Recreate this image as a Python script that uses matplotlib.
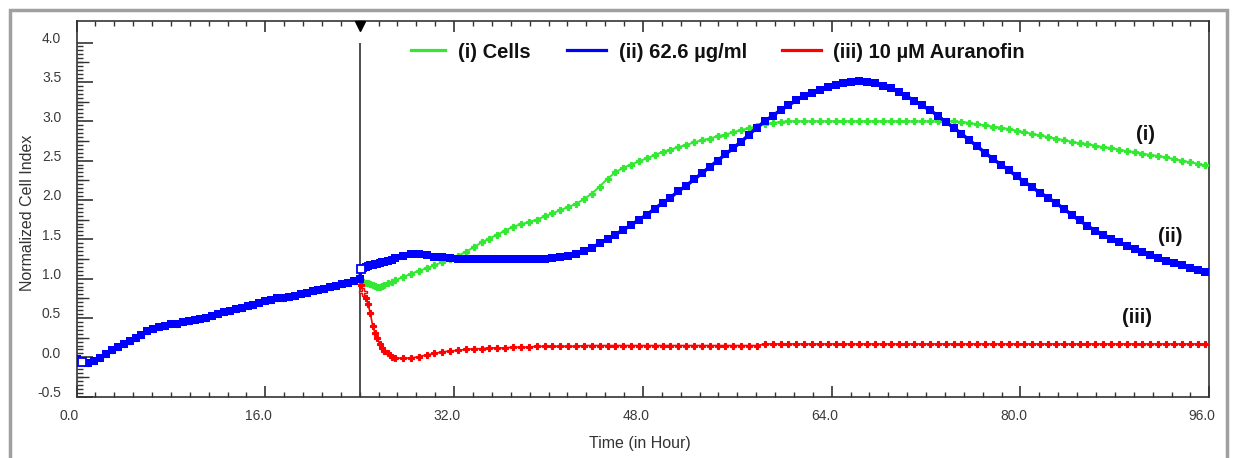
import numpy as np
import matplotlib
matplotlib.use("Agg")
import matplotlib.pyplot as plt
from matplotlib.transforms import ScaledTranslation, blended_transform_factory
from matplotlib.lines import Line2D
from matplotlib.patches import Rectangle
from matplotlib.ticker import FixedLocator, NullLocator, FormatStrFormatter

plt.rcParams['font.family'] = ['Liberation Sans', 'DejaVu Sans']
plt.rcParams['axes.unicode_minus'] = False

# ---------------------------------------------------------------- data
labels = ["(i) Cells", "(ii) 62.6 µg/ml", "(iii) 10 µM Auranofin"]
curve_tags = ["(i)", "(ii)", "(iii)"]
treat_time = 24.0

# pre-treatment sweep (every 30 min, all wells overlap)
t_pre = np.arange(0.0, 24.01, 0.5)
baseline = [-0.02, -0.06, -0.07, -0.05, -0.01, 0.04, 0.09, 0.13, 0.17, 0.21,
            0.25, 0.29, 0.33, 0.36, 0.38, 0.40, 0.42, 0.43, 0.45, 0.46,
            0.47, 0.49, 0.50, 0.52, 0.55, 0.57, 0.59, 0.61, 0.63, 0.65,
            0.67, 0.69, 0.71, 0.73, 0.75, 0.76, 0.77, 0.78, 0.80, 0.82,
            0.84, 0.86, 0.87, 0.89, 0.91, 0.93, 0.95, 0.97, 1.00]

# post-treatment sweeps: fast sampling right after addition, then every 40 min
t_fast = [24.1, 24.3, 24.5, 24.7, 24.9, 25.1, 25.3, 25.5, 25.7, 25.9,
          26.1, 26.4, 26.7, 27.0]
t_slow = 27.0 + np.arange(1, 104) * (2.0 / 3.0)
t_post = np.concatenate([t_fast, t_slow])

cells_post = [0.97, 0.96, 0.95, 0.94, 0.93, 0.92, 0.91, 0.90, 0.90, 0.91,
              0.92, 0.94, 0.96, 0.98,
              1.02, 1.06, 1.10, 1.13, 1.17, 1.21, 1.25, 1.29, 1.34, 1.40,
              1.46, 1.51, 1.56, 1.61, 1.66, 1.69, 1.72, 1.75, 1.79, 1.83,
              1.87, 1.91, 1.95, 2.01, 2.08, 2.17, 2.27, 2.35, 2.41, 2.45,
              2.49, 2.53, 2.57, 2.61, 2.64, 2.67, 2.70, 2.73, 2.76, 2.78,
              2.81, 2.83, 2.86, 2.89, 2.91, 2.94, 2.96, 2.98, 2.99, 3.00,
              3.00, 3.00, 3.00, 3.00, 3.00, 3.00, 3.00, 3.00, 3.00, 3.00,
              3.00, 3.00, 3.00, 3.00, 3.00, 3.00, 3.00, 3.00, 3.00, 3.00,
              3.00, 2.99, 2.98, 2.96, 2.95, 2.93, 2.92, 2.90, 2.88, 2.86,
              2.84, 2.82, 2.80, 2.78, 2.76, 2.74, 2.72, 2.71, 2.69, 2.67,
              2.66, 2.64, 2.62, 2.61, 2.59, 2.57, 2.56, 2.54, 2.52, 2.50,
              2.48, 2.46, 2.44]

extract_post = [1.12, 1.14, 1.15, 1.16, 1.17, 1.17, 1.18, 1.19, 1.20, 1.21,
                1.21, 1.23, 1.24, 1.26,
                1.29, 1.31, 1.31, 1.30, 1.28, 1.27, 1.26, 1.25, 1.25, 1.25,
                1.25, 1.25, 1.25, 1.25, 1.25, 1.25, 1.25, 1.25, 1.25, 1.26,
                1.27, 1.29, 1.31, 1.35, 1.39, 1.45, 1.50, 1.56, 1.62, 1.68,
                1.75, 1.81, 1.89, 1.96, 2.03, 2.11, 2.18, 2.26, 2.34, 2.42,
                2.50, 2.58, 2.66, 2.74, 2.83, 2.92, 3.00, 3.07, 3.14, 3.20,
                3.27, 3.32, 3.36, 3.40, 3.44, 3.46, 3.49, 3.50, 3.51, 3.50,
                3.48, 3.45, 3.42, 3.37, 3.32, 3.26, 3.20, 3.14, 3.07, 2.99,
                2.92, 2.84, 2.76, 2.68, 2.60, 2.52, 2.45, 2.38, 2.30, 2.23,
                2.16, 2.09, 2.03, 1.96, 1.89, 1.81, 1.74, 1.67, 1.61, 1.56,
                1.51, 1.46, 1.42, 1.38, 1.34, 1.30, 1.26, 1.23, 1.20, 1.17,
                1.14, 1.11, 1.08]

auranofin_post = [0.92, 0.83, 0.76, 0.68, 0.56, 0.40, 0.31, 0.24, 0.17, 0.12,
                  0.08, 0.05, 0.01, -0.01,
                  -0.01, -0.01, 0.01, 0.03, 0.05, 0.07, 0.08, 0.09, 0.10, 0.11,
                  0.11, 0.12, 0.12, 0.12, 0.13, 0.13, 0.13, 0.14, 0.14, 0.14,
                  0.14, 0.14, 0.14, 0.15, 0.15, 0.15, 0.15, 0.15, 0.15, 0.15,
                  0.15, 0.15, 0.15, 0.15, 0.15, 0.15, 0.15, 0.15, 0.15, 0.15,
                  0.15, 0.15, 0.15, 0.15, 0.15, 0.15, 0.17, 0.17, 0.17, 0.17,
                  0.17, 0.17, 0.17, 0.17, 0.17, 0.17, 0.17, 0.17, 0.17, 0.17,
                  0.17, 0.17, 0.17, 0.17, 0.17, 0.17, 0.17, 0.17, 0.17, 0.17,
                  0.17, 0.17, 0.17, 0.17, 0.17, 0.17, 0.17, 0.17, 0.17, 0.17,
                  0.17, 0.17, 0.17, 0.17, 0.17, 0.17, 0.17, 0.17, 0.17, 0.17,
                  0.17, 0.17, 0.17, 0.17, 0.17, 0.17, 0.17, 0.17, 0.17, 0.17,
                  0.17, 0.17, 0.17]

# label anchor points next to the curve ends
tag_x = [90.6, 92.7, 89.9]
tag_y = [2.83, 1.53, 0.51]

x_major = np.arange(0, 96.1, 16)
x_minor = np.arange(0, 96.1, 1.6)
y_major = np.arange(-0.5, 4.01, 0.5)
y_mid = np.arange(-0.25, 4.0, 0.5)
y_minor = np.arange(-0.5, 4.001, 0.05)

colors = ["#33e833", "#0000ff", "#ff0000"]

# ---------------------------------------------------------------- figure
W, H, DPI = 1233, 458, 100
fig = plt.figure(figsize=(W / DPI, H / DPI), dpi=DPI)
fig.patch.set_facecolor("white")
L, R, T, B = 76.5, 1209.3, 20.5, 396.7
ax = fig.add_axes([L / W, 1 - B / H, (R - L) / W, (B - T) / H])
ax.set_xlim(0, 96)
ax.set_ylim(-0.5, 4.28)

t_all = np.concatenate([t_pre, t_post])
y_cells = np.concatenate([baseline, cells_post])
y_extract = np.concatenate([baseline, extract_post])
y_aura = np.concatenate([baseline, auranofin_post])

ax.plot(t_all, y_cells, color=colors[0], lw=1.4, marker="P", ms=4.6,
        mew=0.9, mec=colors[0], zorder=3)
ax.plot(t_all, y_aura, color=colors[2], lw=1.2, marker="P", ms=4.2,
        mew=0.8, mec=colors[2], zorder=3.5)
ax.plot(t_all, y_extract, color=colors[1], lw=2.5, marker="s", ms=5.5,
        mew=0, zorder=4)

# highlighted (hollow) sweep points
n_pre = len(t_pre)
ax.plot(t_all[1], y_extract[1], "s", ms=6, mfc="white", mec=colors[1],
        mew=1.3, zorder=5)
ax.plot(t_all[n_pre], y_extract[n_pre], "s", ms=6, mfc="white",
        mec=colors[1], mew=1.3, zorder=5)
ax.plot(t_all[n_pre + 1], y_aura[n_pre + 1], "P", ms=5.5, mfc="white",
        mec=colors[2], mew=1.0, zorder=5)

# compound addition marker
ax.vlines(treat_time, -0.5, 4.0, color="#404040", lw=1.3, zorder=2)
ax.plot(treat_time, 0.9867, marker="v", ms=7, color="black",
        transform=blended_transform_factory(ax.transData, ax.transAxes),
        clip_on=False, zorder=6)

# ---------------------------------------------------------------- axes style
for s in ax.spines.values():
    s.set_color("#333333")
    s.set_linewidth(1.2)

ax.xaxis.set_major_locator(FixedLocator(x_major))
ax.xaxis.set_minor_locator(FixedLocator(x_minor))
ax.yaxis.set_major_locator(FixedLocator(y_major))
ax.yaxis.set_minor_locator(FixedLocator(y_minor))
ax.xaxis.set_major_formatter(FormatStrFormatter("%.1f"))
ax.yaxis.set_major_formatter(FormatStrFormatter("%.1f"))

ax.tick_params(axis="x", which="major", direction="in", length=8, width=1.2,
               top=True, bottom=True, labelsize=10, labelcolor="#3a3a3a",
               color="#333333", pad=9)
ax.tick_params(axis="x", which="minor", direction="in", length=3.8,
               width=1.0, top=True, bottom=True, color="#333333")
ax.tick_params(axis="y", which="major", direction="in", length=11.5,
               width=1.2, left=True, right=False, labelsize=10,
               labelcolor="#3a3a3a", color="#333333", pad=11)
ax.tick_params(axis="y", which="minor", direction="in", length=4.3,
               width=1.0, left=True, right=False, color="#333333")

sec = ax.secondary_yaxis("left")
sec.set_yticks(y_mid)
sec.yaxis.set_minor_locator(NullLocator())
sec.tick_params(direction="in", length=8.6, width=1.0, labelleft=False,
                color="#333333")
sec.spines["left"].set_visible(False)

ax.set_ylabel("Normalized Cell Index", fontsize=11.5, color="#333333")
ax.yaxis.set_label_coords(-0.0366, 0.49)
ax.set_xlabel("Time (in Hour)", fontsize=11.5, color="#333333", va="center")
ax.xaxis.set_label_coords(0.4975, -0.125)

# tick labels sit slightly off their ticks
for lbl in ax.get_xticklabels():
    lbl.set_transform(lbl.get_transform()
                      + ScaledTranslation(-7 / DPI, 0, fig.dpi_scale_trans))
for lbl in ax.get_yticklabels():
    lbl.set_transform(lbl.get_transform()
                      + ScaledTranslation(0, 5 / DPI, fig.dpi_scale_trans))

# ---------------------------------------------------------------- legend
leg_y = 1 - 50 / H
handle_x = [(411, 445), (567, 606), (782, 821)]
text_x = [458, 619, 833]
for (x0, x1), tx, c, lab in zip(handle_x, text_x, colors, labels):
    fig.add_artist(Line2D([x0 / W, x1 / W], [leg_y, leg_y], color=c, lw=2.3,
                          transform=fig.transFigure))
    fig.text(tx / W, leg_y, lab, fontsize=14.5, fontweight="bold",
             color="#111111", ha="left", va="center_baseline")

for tx, ty, tag in zip(tag_x, tag_y, curve_tags):
    ax.text(tx, ty, tag, fontsize=14.5, fontweight="bold", color="#111111",
            ha="center", va="center")

# outer frame
fig.add_artist(Rectangle((9.5 / W, -0.1), (1226.5 - 9.5) / W, 1.1 - 10.5 / H,
                         transform=fig.transFigure, fill=False,
                         edgecolor="#a0a0a0", lw=2.5))

fig.savefig("out.png", dpi=DPI, facecolor="white")
